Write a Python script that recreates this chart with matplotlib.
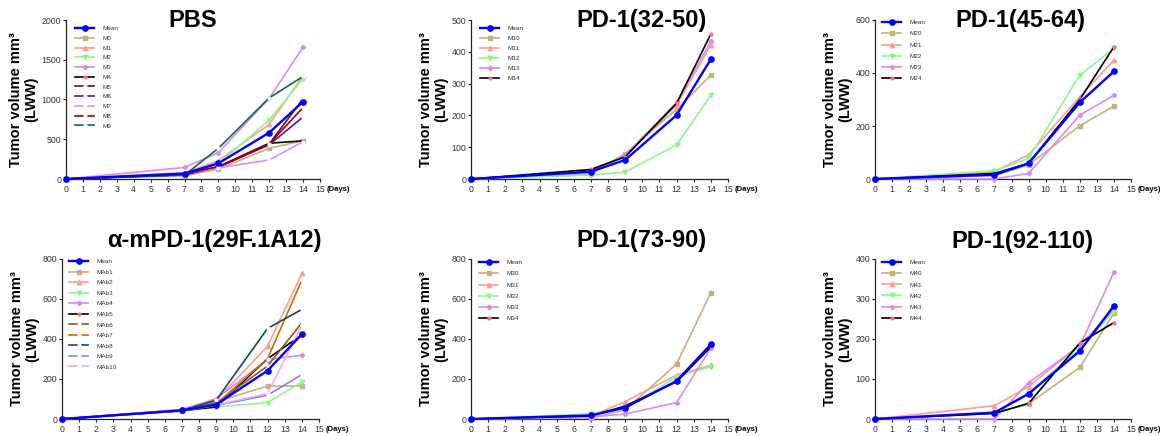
import matplotlib
matplotlib.use("Agg")
import matplotlib.pyplot as plt

plt.rcParams["font.family"] = ["Liberation Sans", "DejaVu Sans"]

# ---------------------------------------------------------------- data
days = [0, 7, 9, 12, 14]
x_ticks = list(range(16))

pbs_labels = ["Mean", "M0", "M1", "M2", "M3", "M4", "M5", "M6", "M7", "M8", "M9"]
pbs_values = [
    [0, 68, 197, 583, 973],
    [0, 40, 126, 386, 482],
    [0, 80, 230, 688, 1300],
    [0, 60, 190, 742, 1260],
    [0, 145, 331, 1015, 1660],
    [0, 55, 155, 450, 480],
    [0, 60, 150, 440, 1010],
    [0, 55, 150, 430, 780],
    [0, 70, 140, 239, 470],
    [0, 65, 155, 440, 900],
    [0, 50, 386, 1020, 1290],
]
pbs_yticks = [0, 500, 1000, 1500, 2000]

pd1_32_labels = ["Mean", "M10", "M11", "M12", "M13", "M14"]
pd1_32_values = [
    [0, 23, 60, 201, 377],
    [0, 16, 80, 219, 326],
    [0, 26, 70, 233, 421],
    [0, 12, 22, 107, 263],
    [0, 20, 75, 241, 433],
    [0, 30, 70, 238, 456],
]
pd1_32_yticks = [0, 100, 200, 300, 400, 500]

pd1_45_labels = ["Mean", "M20", "M21", "M22", "M23", "M24"]
pd1_45_values = [
    [0, 16, 59, 289, 406],
    [0, 13, 53, 201, 275],
    [0, 28, 91, 310, 449],
    [0, 31, 78, 392, 493],
    [0, 0, 21, 241, 316],
    [0, 21, 59, 300, 499],
]
pd1_45_yticks = [0, 200, 400, 600]

mab_labels = ["Mean", "MAb1", "MAb2", "MAb3", "MAb4", "MAb5",
              "MAb6", "MAb7", "MAb8", "MAb9", "MAb10"]
mab_values = [
    [0, 43, 72, 242, 424],
    [0, 42, 85, 165, 165],
    [0, 45, 94, 364, 728],
    [0, 40, 60, 82, 185],
    [0, 48, 102, 297, 319],
    [0, 42, 60, 302, 420],
    [0, 45, 80, 265, 481],
    [0, 45, 75, 302, 695],
    [0, 43, 94, 453, 548],
    [0, 40, 68, 119, 222],
    [0, 45, 70, 127, 470],
]
mab_yticks = [0, 200, 400, 600, 800]

pd1_73_labels = ["Mean", "M30", "M31", "M32", "M33", "M34"]
pd1_73_values = [
    [0, 18, 57, 190, 373],
    [0, 5, 45, 275, 632],
    [0, 15, 87, 220, 268],
    [0, 25, 55, 210, 262],
    [0, 10, 25, 82, 355],
    [0, 15, 65, 186, 360],
]
pd1_73_yticks = [0, 200, 400, 600, 800]

pd1_92_labels = ["Mean", "M40", "M41", "M42", "M43", "M44"]
pd1_92_values = [
    [0, 16, 63, 170, 283],
    [0, 14, 38, 129, 265],
    [0, 33, 81, 185, 273],
    [0, 14, 65, 177, 269],
    [0, 0, 91, 183, 367],
    [0, 14, 39, 190, 241],
]
pd1_92_yticks = [0, 100, 200, 300, 400]

titles = ["PBS", "PD-1(32-50)", "PD-1(45-64)",
          "\u03b1-mPD-1(29F.1A12)", "PD-1(73-90)", "PD-1(92-110)"]

# ---------------------------------------------------------------- styles
MEAN = dict(color="#0000FF", marker="o", ms=3.8, mfc="#0000FF", mec="#0000FF", lw=1.7)
TAN = dict(color="#C4B27C", marker="s", ms=3.2, mfc="#C4B27C", mec="#C4B27C", lw=1.2)
SALMON = dict(color="#FF9C94", marker="^", ms=3.2, mfc="#FF9C94", mec="#FF9C94", lw=1.2)
GREEN = dict(color="#8CF88C", marker="v", ms=3.2, mfc="#8CF88C", mec="#8CF88C", lw=1.2)
VIOLET = dict(color="#D98AF8", marker="P", ms=2.8, mfc="#D98AF8", mec="#D98AF8", lw=1.2)
BLACK = dict(color="#000000", marker="o", ms=2.0, mfc="#FF6F8A", mec="#FF6F8A", lw=1.2)


def hollow(c):
    return dict(color=c, marker="o", ms=2.0, mfc="white", mec="white", lw=1.2)


base_styles = [MEAN, TAN, SALMON, GREEN, VIOLET, BLACK]
pbs_styles = base_styles + [hollow("#5A0A50"), hollow("#6A0AA0"), hollow("#E08AFF"),
                            hollow("#A00000"), hollow("#0B6B4A")]
mab_styles = base_styles + [hollow("#8B5A20"), hollow("#D06A00"), hollow("#0A4F57"),
                            hollow("#8080FF"), hollow("#FFA3E6")]

# ---------------------------------------------------------------- layout (pixels)
W, H = 1160, 436
fig = plt.figure(figsize=(W / 100, H / 100), dpi=100)

panels = [
    dict(box=(66, 20, 320, 179), labels=pbs_labels, values=pbs_values, styles=pbs_styles,
         yticks=pbs_yticks, tpos=(193, 27), leg=(75, 29, 9.7)),
    dict(box=(471, 20, 728, 179), labels=pd1_32_labels, values=pd1_32_values, styles=base_styles,
         yticks=pd1_32_yticks, tpos=(641, 27), leg=(480, 29, 10.0)),
    dict(box=(875, 20, 1131, 179), labels=pd1_45_labels, values=pd1_45_values, styles=base_styles,
         yticks=pd1_45_yticks, tpos=(1020, 27), leg=(882, 23, 11.2)),
    dict(box=(62, 259, 319, 419), labels=mab_labels, values=mab_values, styles=mab_styles,
         yticks=mab_yticks, tpos=(214, 247), leg=(69, 262, 10.5)),
    dict(box=(471, 259, 728, 419), labels=pd1_73_labels, values=pd1_73_values, styles=base_styles,
         yticks=pd1_73_yticks, tpos=(641, 247), leg=(479, 263, 11.2)),
    dict(box=(875, 259, 1131, 419), labels=pd1_92_labels, values=pd1_92_values, styles=base_styles,
         yticks=pd1_92_yticks, tpos=(1022, 248), leg=(882, 263, 11.1)),
]

LEG_FS = 4.6
PX_PER_PT = 100 / 72

for p, title in zip(panels, titles):
    l, t, r, b = p["box"]
    ax = fig.add_axes([l / W, 1 - b / H, (r - l) / W, (b - t) / H])

    for i, (lab, vals, st) in enumerate(zip(p["labels"], p["values"], p["styles"])):
        ax.plot(days, vals, label=lab, clip_on=False,
                zorder=6 if i == 0 else 3 + i * 0.01, **st)

    ax.set_xlim(0, 15)
    ax.set_ylim(p["yticks"][0], p["yticks"][-1])
    ax.set_xticks(x_ticks)
    ax.set_yticks(p["yticks"])
    for side in ("top", "right"):
        ax.spines[side].set_visible(False)
    for side in ("left", "bottom"):
        ax.spines[side].set_linewidth(0.9)
        ax.spines[side].set_color("#222222")
    ax.tick_params(axis="both", direction="out", length=2.5, width=0.8,
                   labelsize=6.3, labelcolor="#333333", color="#222222")
    ax.tick_params(axis="x", pad=2)
    ax.tick_params(axis="y", pad=1)

    ax.set_ylabel("Tumor volume mm\u00b3\n(LWW)", fontsize=10.5, fontweight="bold",
                  labelpad=2, linespacing=1.15)

    ax.annotate("(Days)", xy=(15, 0), xycoords=("data", "axes fraction"),
                xytext=(5, -7.2), textcoords="offset points",
                ha="left", va="center", fontsize=5.5, fontweight="bold")

    # legend, top-left inside the plot
    lx, ly, pitch = p["leg"]
    row_h = 0.85 * LEG_FS
    spacing = (pitch / PX_PER_PT - row_h) / LEG_FS
    top_px = ly - row_h * PX_PER_PT / 2 - 0.5
    ax.legend(loc="upper left",
              bbox_to_anchor=((lx - l) / (r - l), (b - top_px) / (b - t)),
              frameon=False, fontsize=LEG_FS, labelcolor="#333333",
              borderpad=0, borderaxespad=0, handlelength=3.0,
              handletextpad=1.35, labelspacing=spacing, numpoints=1)

    cx, base = p["tpos"]
    fig.text(cx / W, 1 - base / H, title, ha="center", va="baseline",
             fontsize=17, fontweight="bold")

fig.savefig("out.png", dpi=100)
